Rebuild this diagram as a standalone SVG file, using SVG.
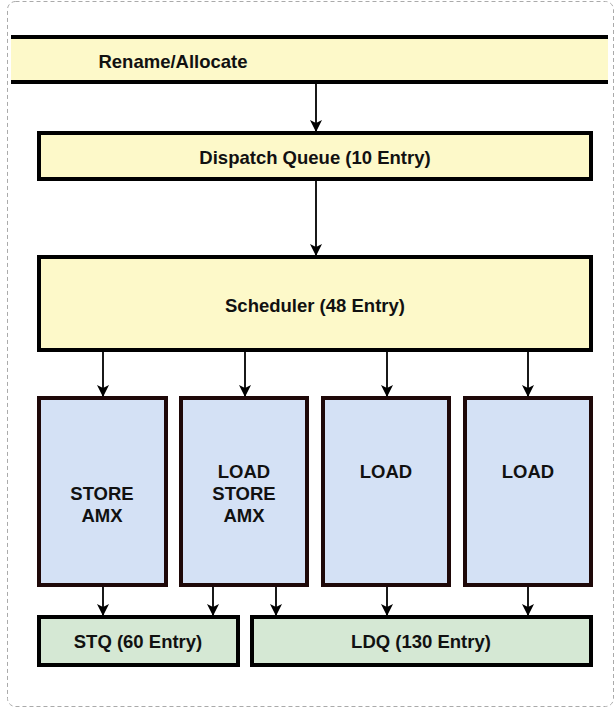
<svg xmlns="http://www.w3.org/2000/svg" width="616" height="713" viewBox="0 0 616 713">
<defs>
<marker id="arr" markerWidth="12" markerHeight="14" refX="11" refY="7" orient="auto" markerUnits="userSpaceOnUse">
<path d="M0,1 L12,7 L0,13 L3,7 Z" fill="#000"/>
</marker>
<style>
.lbl{font-family:"Liberation Sans",Arial,sans-serif;font-weight:bold;font-size:18.5px;fill:#111;text-anchor:middle;dominant-baseline:central}
.yel{fill:#fdf9c9;stroke:#000;stroke-width:4}
.blu{fill:#d4e1f5;stroke:#1e0808;stroke-width:4}
.grn{fill:#d5e8d4;stroke:#000;stroke-width:4}
.con{stroke:#000;stroke-width:1.8;fill:none;marker-end:url(#arr)}
</style>
</defs>
<rect x="0" y="0" width="616" height="713" fill="#fff"/>
<rect x="7.5" y="1.5" width="606" height="705" rx="8" fill="none" stroke="#aaa" stroke-width="1" stroke-dasharray="4,3"/>
<g id="rename">
<rect x="11" y="37" width="597" height="45" fill="#fdf9c9"/>
<line x1="11" y1="37" x2="608" y2="37" stroke="#000" stroke-width="4"/>
<line x1="11" y1="82" x2="608" y2="82" stroke="#000" stroke-width="4"/>
<text class="lbl" x="173" y="61">Rename/Allocate</text>
</g>
<g id="dispatch">
<rect class="yel" x="39" y="133" width="552" height="46"/>
<text class="lbl" x="315" y="157">Dispatch Queue (10 Entry)</text>
</g>
<g id="scheduler">
<rect class="yel" x="39" y="257" width="552" height="93"/>
<text class="lbl" x="315" y="305">Scheduler (48 Entry)</text>
</g>
<g id="port0">
<rect class="blu" x="39" y="398" width="127" height="187"/>
<text class="lbl" x="102" y="493">STORE</text>
<text class="lbl" x="102" y="515">AMX</text>
</g>
<g id="port1">
<rect class="blu" x="181" y="398" width="126" height="187"/>
<text class="lbl" x="244" y="471">LOAD</text>
<text class="lbl" x="244" y="493">STORE</text>
<text class="lbl" x="244" y="515">AMX</text>
</g>
<g id="port2">
<rect class="blu" x="323" y="398" width="126" height="187"/>
<text class="lbl" x="386" y="471">LOAD</text>
</g>
<g id="port3">
<rect class="blu" x="465" y="398" width="126" height="187"/>
<text class="lbl" x="528" y="471">LOAD</text>
</g>
<g id="stq">
<rect class="grn" x="39" y="617" width="199" height="48"/>
<text class="lbl" x="138" y="641">STQ (60 Entry)</text>
</g>
<g id="ldq">
<rect class="grn" x="252" y="617" width="339" height="48"/>
<text class="lbl" x="421" y="641">LDQ (130 Entry)</text>
</g>
<g id="connectors">
<line class="con" x1="316" y1="84" x2="316" y2="131"/>
<line class="con" x1="316" y1="181" x2="316" y2="255"/>
<line class="con" x1="103" y1="352" x2="103" y2="396"/>
<line class="con" x1="245" y1="352" x2="245" y2="396"/>
<line class="con" x1="387" y1="352" x2="387" y2="396"/>
<line class="con" x1="528" y1="352" x2="528" y2="396"/>
<line class="con" x1="103" y1="587" x2="103" y2="615"/>
<line class="con" x1="213" y1="587" x2="213" y2="615"/>
<line class="con" x1="276" y1="587" x2="276" y2="615"/>
<line class="con" x1="387" y1="587" x2="387" y2="615"/>
<line class="con" x1="528" y1="587" x2="528" y2="615"/>
</g>
</svg>
